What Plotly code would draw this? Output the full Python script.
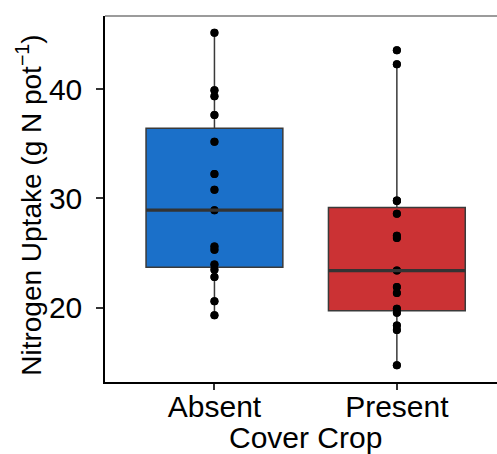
import numpy as np
import plotly.graph_objects as go

# Nitrogen uptake per pot (g N pot^-1), 15 pots per cover-crop treatment
categories = ["Absent", "Present"]
absent_uptake = [45.18, 39.91, 39.36, 37.63, 35.19, 32.24, 30.78, 28.92,
                 25.60, 25.30, 23.93, 23.45, 22.80, 20.58, 19.30]
present_uptake = [43.56, 42.28, 29.80, 29.75, 28.58, 26.58, 26.36, 23.38,
                  21.89, 21.34, 19.88, 19.52, 18.36, 17.93, 14.70]
fill_colors = ["#1B70C9", "#CB3234"]
y_ticks = [20, 30, 40]

series = [absent_uptake, present_uptake]
FONT = "Liberation Sans, Arial, sans-serif"

fig = go.Figure()
for cat, vals, col in zip(categories, series, fill_colors):
    fig.add_trace(go.Box(
        x=[cat] * len(vals), y=vals, name=cat,
        boxpoints="all", jitter=0, pointpos=0,
        quartilemethod="inclusive",
        fillcolor=col, width=0.75,
        line=dict(color="#3a3a3a", width=1.5),
        marker=dict(color="black", size=8, line=dict(width=0)),
        whiskerwidth=0, showlegend=False, hoverinfo="y",
    ))

# points on top of everything (including the heavy median bars)
for cat, vals in zip(categories, series):
    fig.add_trace(go.Scatter(
        x=[cat] * len(vals), y=vals, mode="markers",
        marker=dict(color="black", size=8), showlegend=False, hoverinfo="skip",
    ))

y_lo = min(min(s) for s in series)
y_hi = max(max(s) for s in series)
pad = 0.05 * (y_hi - y_lo)

fig.update_layout(
    width=497, height=454,
    margin=dict(l=105, r=0, t=16, b=72),
    paper_bgcolor="white", plot_bgcolor="white",
    font=dict(family=FONT, color="black"),
    xaxis=dict(
        type="category", categoryorder="array", categoryarray=categories,
        range=[-0.6, 1.549],
        showline=True, linecolor="black", linewidth=1.5,
        ticks="outside", ticklen=6, tickcolor="#333333", tickwidth=1.5,
        ticklabelstandoff=-9,
        tickfont=dict(size=30, family=FONT, color="black"),
        showgrid=False, zeroline=False,
    ),
    yaxis=dict(
        range=[y_lo - pad, y_hi + pad],
        tickvals=y_ticks,
        showline=True, linecolor="black", linewidth=1.5,
        ticks="outside", ticklen=7, tickcolor="#333333", tickwidth=1.5,
        ticklabelstandoff=8,
        tickfont=dict(size=30, family=FONT, color="black"),
        showgrid=False, zeroline=False,
    ),
    annotations=[
        dict(text="Cover Crop", xref="paper", yref="paper",
             x=0.5115, y=-0.152, xanchor="center", yanchor="middle",
             showarrow=False, font=dict(size=30, family=FONT, color="black")),
        dict(text="Nitrogen Uptake (g N pot<sup>\u22121</sup>)",
             xref="paper", yref="paper", x=-0.194, y=0.484,
             xanchor="center", yanchor="middle", textangle=-90,
             showarrow=False, font=dict(size=28, family=FONT, color="black")),
    ],
)

# grey top border of the panel
fig.add_shape(type="line", xref="paper", yref="paper",
              x0=0, x1=1, y0=1, y1=1,
              line=dict(color="#7a7a7a", width=1.5))

# heavier median bars, computed from the same values
for i, vals in enumerate(series):
    med = float(np.median(vals))
    fig.add_shape(type="line", xref="x", yref="y",
                  x0=i - 0.375, x1=i + 0.375, y0=med, y1=med,
                  line=dict(color="#333333", width=3.2), layer="above")

fig.write_html("out.html")
